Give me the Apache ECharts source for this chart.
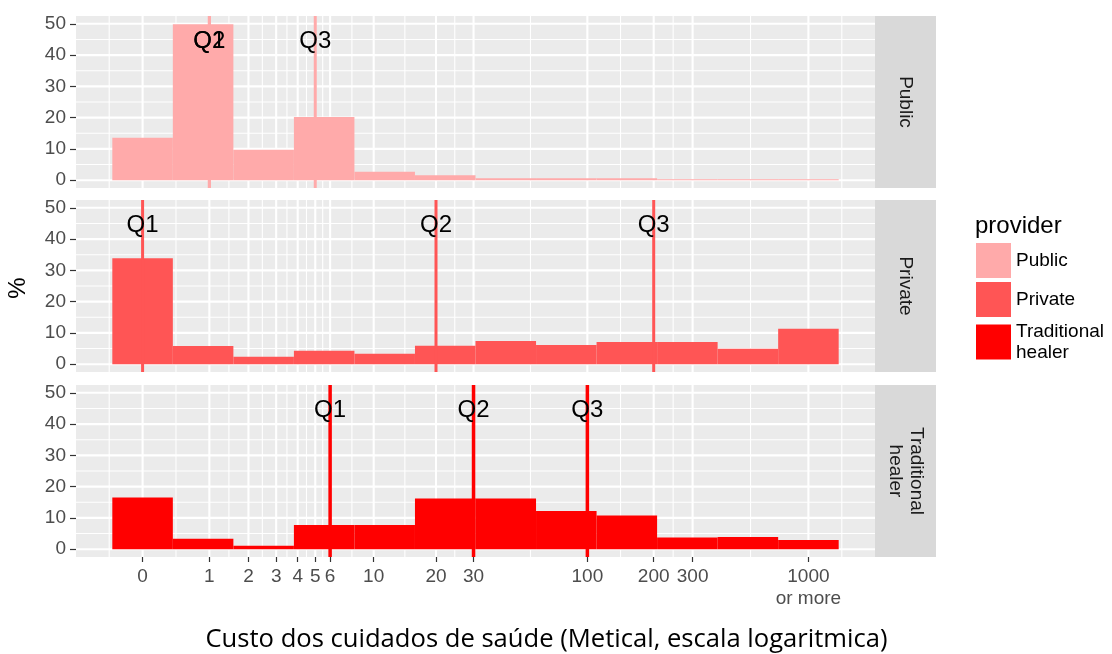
<!DOCTYPE html>
<html><head><meta charset="utf-8">
<script src="https://cdn.jsdelivr.net/npm/echarts@6/dist/echarts.min.js"></script>
<style>html,body{margin:0;padding:0;background:#fff}#c{width:1112px;height:654px}</style>
</head><body><div id="c"></div>
<script>
// ---------------- data ----------------
const providers = ['Public', 'Private', 'Traditional healer'];
const providerColors = ['#FFAAAA', '#FF5555', '#FF0000'];
// 12 histogram bins, equally spaced on the log10(cost + 1) scale; first bin centred on 0, last on 1000 ("or more")
const binCount = 12;
const publicPct      = [13.6, 49.9, 9.7, 20.2, 2.7, 1.6, 0.6, 0.6, 0.6, 0.3, 0.3, 0.3];
const privatePct     = [33.9, 5.8, 2.4, 4.3, 3.3, 5.9, 7.4, 6.1, 7.1, 7.1, 4.9, 11.3];
const traditionalPct = [16.5, 3.3, 1.1, 7.7, 7.7, 16.2, 16.2, 12.2, 10.8, 3.7, 3.9, 2.9];
const quartileNames = ['Q1', 'Q2', 'Q3'];
const publicQ      = [1, 1, 5];
const privateQ     = [0, 20, 200];
const traditionalQ = [6, 30, 100];
const tickValues = [0, 1, 2, 3, 4, 5, 6, 10, 20, 30, 100, 200, 300, 1000];
const tickLabels = ['0', '1', '2', '3', '4', '5', '6', '10', '20', '30', '100', '200', '300', '1000\nor more'];
const yTicks = [0, 10, 20, 30, 40, 50];
const yMinorTicks = [5, 15, 25, 35, 45];
const xTitle = 'Custo dos cuidados de saúde (Metical, escala logaritmica)';
const yTitle = '%';
const legendTitle = 'provider';

// ---------------- helpers ----------------
const toT = v => Math.log10(v + 1);
const binWidth = toT(1000) / (binCount - 1);
const binCenters = Array.from({length: binCount}, (_, i) => i * binWidth);
const pctSets = [publicPct, privatePct, traditionalPct];
const qSets = [publicQ, privateQ, traditionalQ];
const tickT = tickValues.map(toT);
const xMin = -0.3, xMax = toT(1000) + 0.3;
const yMin = -2.5, yMax = 52.5;

// gridline positions (major at breaks, minor at midpoints, ggplot style)
const minorT = [];
const firstGap = tickT[1] - tickT[0];
const extT = [tickT[0] - firstGap, ...tickT, tickT[tickT.length - 1] + firstGap];
for (let i = 0; i < extT.length - 1; i++) {
  const m = (extT[i] + extT[i + 1]) / 2;
  if (m > xMin && m < xMax) minorT.push(m);
}

const panelTops = [16, 200, 385];
const panelH = 172;
const panelLeft = 76, panelRight = 875;
const FONT = '"Liberation Sans", Arial, sans-serif';

const grids = [], xAxes = [], yAxes = [], series = [], graphics = [];

panelTops.forEach((top, p) => {
  grids.push({left: panelLeft, top: top, width: panelRight - panelLeft, height: panelH,
    show: true, backgroundColor: '#EBEBEB', borderWidth: 0});
  const bottom = p === 2;
  xAxes.push({gridIndex: p, type: 'value', min: xMin, max: xMax, position: 'bottom',
    axisLine: {show: false, onZero: false}, splitLine: {show: false},
    axisTick: bottom ? {show: true, customValues: tickT, length: 5, lineStyle: {color: '#333', width: 1.2}} : {show: false},
    axisLabel: bottom ? {show: true, customValues: tickT, fontSize: 19, color: '#4D4D4D', fontFamily: FONT,
      margin: 9, lineHeight: 22,
      formatter: val => {
        let best = 0;
        tickT.forEach((t, i) => { if (Math.abs(t - val) < Math.abs(tickT[best] - val)) best = i; });
        return tickLabels[best];
      }} : {show: false}
  });
  yAxes.push({gridIndex: p, type: 'value', min: yMin, max: yMax, position: 'left',
    axisLine: {show: false, onZero: false}, splitLine: {show: false},
    axisTick: {show: true, customValues: yTicks, length: 6, lineStyle: {color: '#333', width: 1.2}},
    axisLabel: {show: true, customValues: yTicks, fontSize: 19, color: '#4D4D4D', fontFamily: FONT, margin: 10}
  });

  // gridlines: [x, y, orientation(0 vertical / 1 horizontal), lineWidth]
  const gl = [];
  minorT.forEach(t => gl.push([t, 0, 0, 1.1]));
  yMinorTicks.forEach(y => gl.push([0, y, 1, 1.1]));
  tickT.forEach(t => gl.push([t, 0, 0, 2.1]));
  yTicks.forEach(y => gl.push([0, y, 1, 2.1]));
  series.push({type: 'custom', name: 'grid' + p, xAxisIndex: p, yAxisIndex: p, silent: true, z: 1,
    data: gl,
    renderItem: (params, api) => {
      const cs = params.coordSys;
      const w = api.value(3);
      if (api.value(2) === 0) {
        const x = api.coord([api.value(0), 0])[0];
        return {type: 'line', shape: {x1: x, y1: cs.y, x2: x, y2: cs.y + cs.height},
          style: {stroke: '#FFFFFF', lineWidth: w}};
      }
      const y = api.coord([0, api.value(1)])[1];
      return {type: 'line', shape: {x1: cs.x, y1: y, x2: cs.x + cs.width, y2: y},
        style: {stroke: '#FFFFFF', lineWidth: w}};
    }
  });

  // histogram bars
  const color = providerColors[p];
  series.push({type: 'custom', name: providers[p], xAxisIndex: p, yAxisIndex: p, silent: true, z: 2,
    itemStyle: {color: color},
    data: binCenters.map((c, i) => [c, pctSets[p][i]]),
    renderItem: (params, api) => {
      const c = api.value(0), v = api.value(1);
      const a = api.coord([c - binWidth / 2, 0]);
      const b = api.coord([c + binWidth / 2, v]);
      return {type: 'rect', shape: {x: a[0], y: b[1], width: b[0] - a[0], height: a[1] - b[1]},
        style: {fill: color}};
    }
  });

  // quartile lines + labels
  series.push({type: 'custom', name: 'quartiles' + p, xAxisIndex: p, yAxisIndex: p, silent: true, z: 3,
    data: qSets[p].map(q => [toT(q), 44.5]),
    renderItem: (params, api) => {
      const cs = params.coordSys;
      const pt = api.coord([api.value(0), api.value(1)]);
      return {type: 'group', children: [
        {type: 'line', shape: {x1: pt[0], y1: cs.y, x2: pt[0], y2: cs.y + cs.height},
          style: {stroke: color, lineWidth: p === 2 ? 3.5 : 3}},
        {type: 'text', x: pt[0], y: pt[1], z2: 10,
          style: {text: quartileNames[params.dataIndex], fill: '#000', font: '24px ' + FONT,
            align: 'center', verticalAlign: 'middle'}}
      ]};
    }
  });

  // facet strip
  graphics.push({type: 'rect', left: panelRight, top: top, shape: {width: 61, height: panelH},
    style: {fill: '#D9D9D9'}, silent: true});
  graphics.push({type: 'text', x: panelRight + 30.5, y: top + panelH / 2, rotation: -Math.PI / 2,
    style: {text: providers[p] === 'Traditional healer' ? 'Traditional\nhealer' : providers[p],
      fill: '#1A1A1A', font: '19px ' + FONT, align: 'center', verticalAlign: 'middle', lineHeight: 21},
    silent: true});
});

graphics.push({type: 'text', x: 18, y: 288, rotation: Math.PI / 2,
  style: {text: yTitle, fill: '#000', font: '24px ' + FONT, align: 'center', verticalAlign: 'middle'}, silent: true});
graphics.push({type: 'text', x: 546.5, y: 640,
  style: {text: xTitle, fill: '#000', font: '25.6px "Open Sans", Lato, sans-serif', align: 'center', verticalAlign: 'middle'}, silent: true});
graphics.push({type: 'text', x: 975, y: 226,
  style: {text: legendTitle, fill: '#000', font: '24px ' + FONT, align: 'left', verticalAlign: 'middle'}, silent: true});

const chart = echarts.init(document.getElementById('c'), null, {renderer: 'canvas'});
chart.setOption({
  animation: false,
  backgroundColor: '#FFFFFF',
  grid: grids, xAxis: xAxes, yAxis: yAxes, series: series,
  legend: {data: providers, left: 976, top: 243, orient: 'vertical', icon: 'rect', padding: 0,
    itemWidth: 35, itemHeight: 35, itemGap: 4, selectedMode: false,
    textStyle: {fontSize: 19, color: '#000', fontFamily: FONT, lineHeight: 21},
    formatter: n => n === 'Traditional healer' ? 'Traditional\nhealer' : n},
  graphic: graphics
});
</script></body></html>
